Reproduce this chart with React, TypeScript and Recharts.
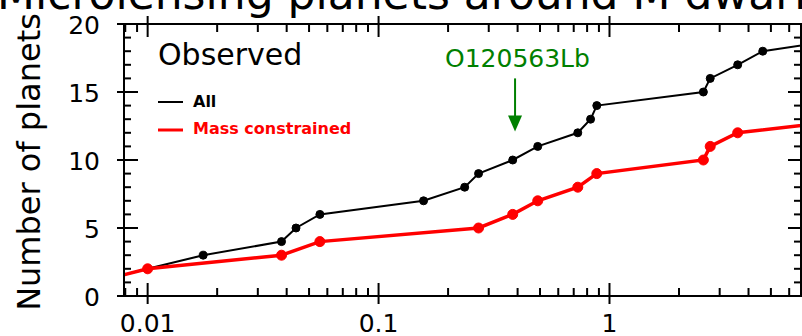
import React from "react";
import { LineChart, Line, XAxis, YAxis, ReferenceLine } from "recharts";

// cumulative planet counts vs. mass ratio-ish x value (log axis)
const allX = [0.0058, 0.01, 0.0174, 0.038, 0.0439, 0.0557, 0.1566, 0.236, 0.271, 0.381, 0.489, 0.729, 0.828, 0.881, 2.55, 2.73, 3.59, 4.61, 11.5];
const allCount = [1, 2, 3, 4, 5, 6, 7, 8, 9, 10, 11, 12, 13, 14, 15, 16, 17, 18, 19];

const massX = [0.0058, 0.01, 0.038, 0.0557, 0.271, 0.381, 0.489, 0.729, 0.881, 2.55, 2.73, 3.59, 11.5];
const massCount = [1, 2, 3, 4, 5, 6, 7, 8, 9, 10, 11, 12, 13];

const xMajor = [0.01, 0.1, 1];
const xMajorLabels = ["0.01", "0.1", "1"];
const xMinor = [0.008, 0.009, 0.02, 0.03, 0.04, 0.05, 0.06, 0.07, 0.08, 0.09, 0.2, 0.3, 0.4, 0.5, 0.6, 0.7, 0.8, 0.9, 2, 3, 4, 5, 6];
const yTicks = [0, 1, 2, 3, 4, 5, 6, 7, 8, 9, 10, 11, 12, 13, 14, 15, 16, 17, 18, 19, 20];
const yMajor = [0, 5, 10, 15, 20];

const arrowX = 0.39;
const arrowTop = 16.0;
const arrowTip = 12.1;

const allRows = allX.map((x, i) => ({ x, n: allCount[i] }));
const massRows = massX.map((x, i) => ({ x, n: massCount[i] }));
const xTicks = [...xMinor, ...xMajor].sort((a, b) => a - b);

const W = 802;
const H = 336;
const L = 124;
const R = 801;
const T = 24;
const B = 296;
const FONT = "'DejaVu Sans', sans-serif";
const GREEN = "#008000";

const isMajorX = (v: number) => xMajor.some((m) => Math.abs(m - v) < 1e-9);

const BottomTick = (props: any) => {
  const { x, payload } = props;
  const i = xMajor.findIndex((m) => Math.abs(m - payload.value) < 1e-9);
  const major = i >= 0;
  return (
    <g>
      <line x1={x} x2={x} y1={major ? B - 13 : B - 8} y2={major ? B + 8 : B} stroke="#000" strokeWidth={2} />
      {major && (
        <text x={x} y={332} textAnchor="middle" fontSize={25} fontFamily={FONT} fill="#000">
          {xMajorLabels[i]}
        </text>
      )}
    </g>
  );
};

const TopTick = (props: any) => {
  const { x, payload } = props;
  const major = isMajorX(payload.value);
  return <line x1={x} x2={x} y1={major ? T - 8 : T} y2={major ? T + 13 : T + 8} stroke="#000" strokeWidth={2} />;
};

const LeftTick = (props: any) => {
  const { y, payload } = props;
  const major = yMajor.includes(payload.value);
  return (
    <g>
      <line x1={major ? L - 7 : L} x2={major ? L + 14 : L + 7} y1={y} y2={y} stroke="#000" strokeWidth={2} />
      {major && (
        <text x={100} y={y + 10} textAnchor="end" fontSize={25} fontFamily={FONT} fill="#000">
          {payload.value}
        </text>
      )}
    </g>
  );
};

const RightTick = (props: any) => {
  const { y, payload } = props;
  const major = yMajor.includes(payload.value);
  return <line x1={major ? R - 13 : R - 7} x2={R + 7} y1={y} y2={y} stroke="#000" strokeWidth={2} />;
};

const Arrow = (props: any) => {
  const { x1, y1, y2 } = props;
  const tip = Math.max(y1, y2);
  return (
    <g>
      <line x1={x1} x2={x1} y1={Math.min(y1, y2)} y2={tip - 6} stroke={GREEN} strokeWidth={2} />
      <polygon points={`${x1 - 7},${tip - 16} ${x1 + 7},${tip - 16} ${x1},${tip}`} fill={GREEN} />
    </g>
  );
};

const axisLine = { stroke: "#000", strokeWidth: 2 };

export default function App() {
  return (
    <div style={{ position: "absolute", left: 0, top: 0, width: W, height: H, background: "#fff", overflow: "hidden" }}>
      <LineChart width={W} height={H} margin={{ top: T - 1, right: W - R - 1, bottom: H - B - 1, left: L - 1 }}>
        <XAxis
          dataKey="x"
          type="number"
          scale="log"
          domain={[0.0079, 6.75]}
          allowDataOverflow
          ticks={xTicks}
          interval={0}
          height={1}
          tickSize={0}
          tickLine={false}
          tick={<BottomTick />}
          axisLine={axisLine}
        />
        <XAxis
          xAxisId="top"
          orientation="top"
          dataKey="x"
          type="number"
          scale="log"
          domain={[0.0079, 6.75]}
          allowDataOverflow
          ticks={xTicks}
          interval={0}
          height={1}
          tickSize={0}
          tickLine={false}
          tick={<TopTick />}
          axisLine={axisLine}
        />
        <YAxis
          type="number"
          domain={[0, 20]}
          allowDataOverflow
          ticks={yTicks}
          interval={0}
          width={1}
          tickSize={0}
          tickLine={false}
          tick={<LeftTick />}
          axisLine={axisLine}
        />
        <YAxis
          yAxisId="right"
          orientation="right"
          type="number"
          domain={[0, 20]}
          allowDataOverflow
          ticks={yTicks}
          interval={0}
          width={1}
          tickSize={0}
          tickLine={false}
          tick={<RightTick />}
          axisLine={axisLine}
        />
        <Line
          data={allRows}
          dataKey="n"
          stroke="#000"
          strokeWidth={2}
          dot={{ r: 4, fill: "#000", stroke: "#000", strokeWidth: 1 }}
          isAnimationActive={false}
        />
        <Line
          data={massRows}
          dataKey="n"
          stroke="#ff0000"
          strokeWidth={3.5}
          dot={{ r: 5, fill: "#ff0000", stroke: "#ff0000", strokeWidth: 1 }}
          isAnimationActive={false}
        />
        <ReferenceLine
          segment={[
            { x: arrowX, y: arrowTop },
            { x: arrowX, y: arrowTip },
          ]}
          shape={<Arrow />}
        />
      </LineChart>
      <svg width={W} height={H} style={{ position: "absolute", left: 0, top: 0, pointerEvents: "none" }}>
        <text x={-3} y={9} fontSize={44} fontFamily={FONT} fill="#000">
          Microlensing planets around M dwarfs
        </text>
        <text x={40} y={162} transform="rotate(-90, 40, 162)" textAnchor="middle" fontSize={32} fontFamily={FONT} fill="#000">
          Number of planets
        </text>
        <text x={158} y={65} fontSize={30} fontFamily={FONT} fill="#000">
          Observed
        </text>
        <line x1={158} x2={183} y1={102} y2={102} stroke="#000" strokeWidth={2} />
        <text x={193} y={107} fontSize={16} fontWeight="bold" fontFamily={FONT} fill="#000">
          All
        </text>
        <line x1={158} x2={183} y1={130} y2={130} stroke="#ff0000" strokeWidth={3} />
        <text x={193} y={134} fontSize={16} fontWeight="bold" fontFamily={FONT} fill="#ff0000">
          Mass constrained
        </text>
        <text x={445} y={67} fontSize={25} fontFamily={FONT} fill={GREEN}>
          O120563Lb
        </text>
      </svg>
    </div>
  );
}
